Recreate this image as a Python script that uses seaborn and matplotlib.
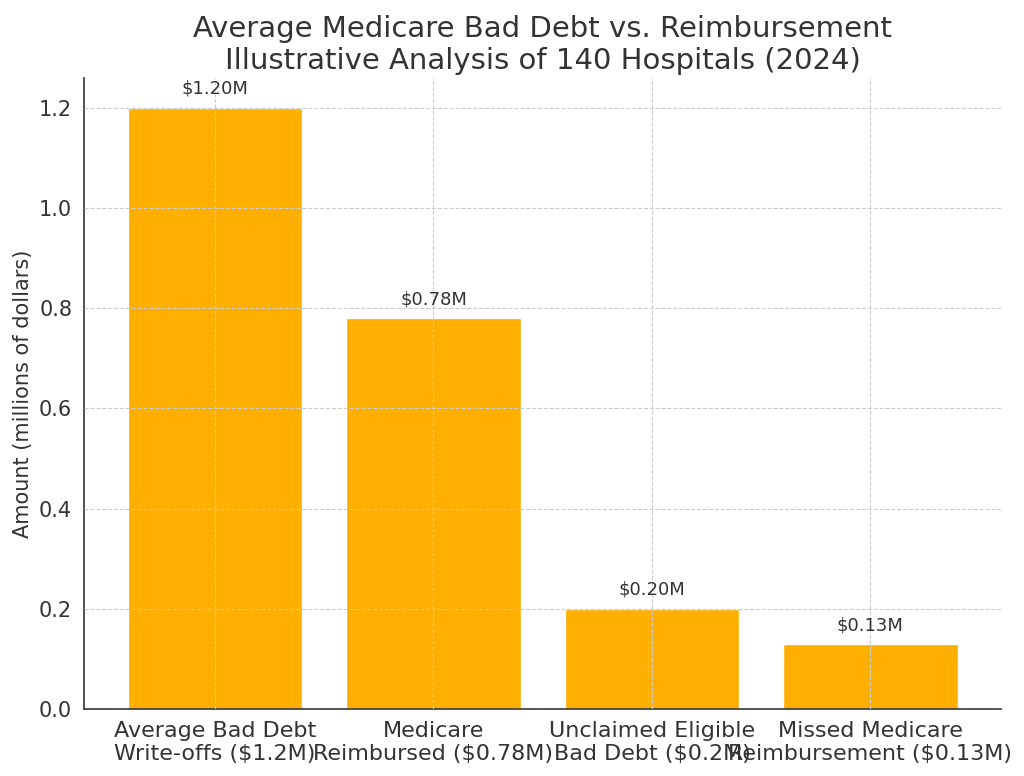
import pandas as pd
import matplotlib
matplotlib.use('Agg')
import matplotlib.pyplot as plt
import seaborn as sns

# Chart values (millions of dollars)
categories = [
    'Average Bad Debt\nWrite-offs ($1.2M)',
    'Medicare\nReimbursed ($0.78M)',
    'Unclaimed Eligible\nBad Debt ($0.2M)',
    'Missed Medicare\nReimbursement ($0.13M)',
]
amounts = [1.20, 0.78, 0.20, 0.13]

df = pd.DataFrame({'Category': categories, 'Amount': amounts})

sns.set_style('white')
plt.rcParams['font.family'] = ['DejaVu Sans']
text_col = '#333333'

fig, ax = plt.subplots(figsize=(10.24, 7.76), dpi=100)

sns.barplot(x='Category', y='Amount', data=df, color='#FFAF00',
            saturation=1, width=0.8, ax=ax)

# value labels above each bar
for i, v in enumerate(amounts):
    ax.text(i, v + 0.02, f'${v:.2f}M', ha='center', va='bottom',
            fontsize=13, color=text_col)

ax.set_title('Average Medicare Bad Debt vs. Reimbursement\nIllustrative Analysis of 140 Hospitals (2024)',
             fontsize=21, color=text_col)
ax.set_xlabel('')
ax.set_ylabel('Amount (millions of dollars)', fontsize=15, color=text_col)
ax.tick_params(axis='x', labelsize=16, colors=text_col, length=5)
ax.tick_params(axis='y', labelsize=15, colors=text_col, length=5)
ax.set_xlim(-0.6, 3.6)
ax.set_ylim(0, 1.26)
ax.set_yticks([0, 0.2, 0.4, 0.6, 0.8, 1.0, 1.2])

ax.grid(True, linestyle='--', color='#cccccc', linewidth=0.8)
ax.set_axisbelow(False)
sns.despine(ax=ax)
for s in ['left', 'bottom']:
    ax.spines[s].set_color(text_col)
    ax.spines[s].set_linewidth(1.2)

plt.subplots_adjust(left=0.082, right=0.978, top=0.9, bottom=0.086)
plt.savefig('out.png', dpi=100)
